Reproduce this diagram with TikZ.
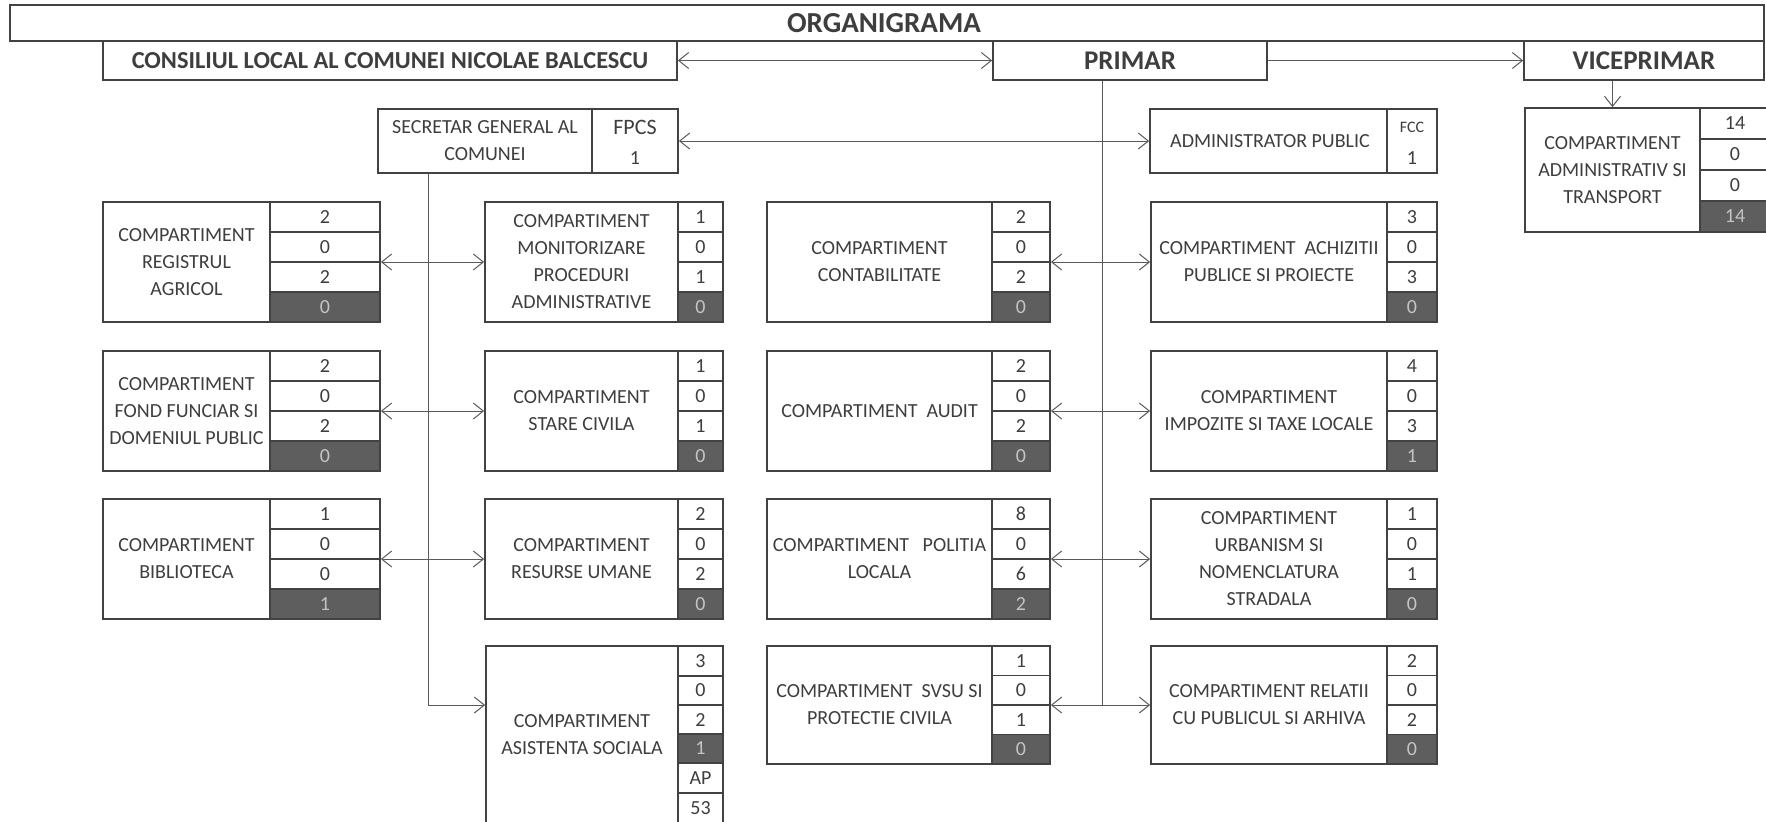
\documentclass[tikz,border=0pt]{standalone}
\usepackage{fontspec}
\setmainfont{Carlito}
\usetikzlibrary{arrows.meta,fit,calc}
\definecolor{ink}{HTML}{3E3E3E}
\definecolor{edge}{HTML}{424242}
\definecolor{darkcell}{HTML}{5E5E5E}
\definecolor{darktext}{HTML}{C4C4C4}
\definecolor{conn}{HTML}{5A5A5A}
\tikzset{
  frame/.style={draw=edge, line width=0.9pt, inner sep=0pt},
  cell/.style={draw=edge, line width=0.9pt},
  lbl/.style={text=ink, font=\fontsize{10}{13.5}\selectfont, align=center, inner sep=0pt},
  num/.style={text=ink, font=\fontsize{10}{12}\selectfont, inner sep=0pt},
  dnum/.style={text=darktext, font=\fontsize{10}{12}\selectfont, inner sep=0pt},
  headtxt/.style={text=ink, font=\bfseries\fontsize{13.5}{16}\selectfont, inner sep=0pt},
  link/.style={draw=conn, line width=0.5pt, {Straight Barb[length=5pt,width=8pt]}-{Straight Barb[length=5pt,width=8pt]}},
  tolink/.style={draw=conn, line width=0.5pt, -{Straight Barb[length=5pt,width=8pt]}},
  vline/.style={draw=conn, line width=0.5pt},
}
% #1 name, #2 x1, #3 y1, #4 xdiv, #5 x2, #6 y2, #7 text, #8 values, #9 dark value
\newcommand\cbox[9]{%
  \pgfmathsetmacro\rh{(#6-#3)/4}%
  \fill[darkcell] (#4,{#3+3*\rh}) rectangle (#5,#6);%
  \node[frame, fit={(#2,#3) (#5,#6)}] (#1) {};%
  \draw[cell] (#4,#3) -- (#4,#6);%
  \foreach \k in {1,2,3} {\draw[cell] (#4,{#3+\k*\rh}) -- (#5,{#3+\k*\rh});}%
  \foreach \v [count=\k] in {#8} {\node[num] at ({(#4+#5)/2},{#3+(\k-0.5)*\rh}) {\v};}%
  \node[dnum] at ({(#4+#5)/2},{#3+3.5*\rh}) {#9};%
  \node[lbl] (#1-t) at ({(#2+#4)/2},{(#3+#6)/2}) {#7};%
}
\begin{document}
\begin{tikzpicture}[x=0.5pt, y=-0.5pt]
\useasboundingbox (0,0) rectangle (1766,821);
\fill[white] (0,0) rectangle (1766,821);

% header
\node[frame, fit={(10,5) (1764,41)}] (title) {};
\node[headtxt, font=\bfseries\fontsize{14.5}{17}\selectfont] (titletext) at (884,23) {ORGANIGRAMA};
\node[frame, fit={(103,41) (677,80)}] (cons) {};
\node[headtxt, font=\bfseries\fontsize{12.2}{14}\selectfont] (constext) at (cons.center) {CONSILIUL LOCAL AL COMUNEI NICOLAE BALCESCU};
\node[frame, fit={(993,41) (1267,80)}] (primar) {};
\node[headtxt] (primartext) at (primar.center) {PRIMAR};
\node[frame, fit={(1524,41) (1764,80)}] (vice) {};
\node[headtxt] (vicetext) at (vice.center) {VICEPRIMAR};

% secretar
\node[frame, fit={(378,109) (678,173)}] (sec) {};
\draw[cell] (592,109) -- (592,173);
\node[lbl] (sec-t) at (485,141) {SECRETAR GENERAL AL\\COMUNEI};
\node[num, font=\fontsize{11}{12}\selectfont] (sec-a) at (635,127) {FPCS};
\node[num] (sec-b) at (635,158) {1};

% administrator public
\node[frame, fit={(1150,109) (1437,173)}] (adm) {};
\draw[cell] (1387,109) -- (1387,173);
\node[lbl] (adm-t) at (1270,141) {ADMINISTRATOR PUBLIC};
\node[num, font=\fontsize{8}{9}\selectfont] (adm-a) at (1412,127) {FCC};
\node[num] (adm-b) at (1412,158) {1};

% administrativ si transport (runs past the right edge)
\cbox{adtr}{1525}{108}{1700}{1770}{232}{COMPARTIMENT\\ADMINISTRATIV SI\\TRANSPORT}{14,0,0}{14}

% row 1
\cbox{reg}{103}{202}{270}{380}{322}{COMPARTIMENT\\REGISTRUL\\AGRICOL}{2,0,2}{0}
\cbox{mon}{485}{202}{678}{723}{322}{COMPARTIMENT\\MONITORIZARE\\PROCEDURI\\ADMINISTRATIVE}{1,0,1}{0}
\cbox{cont}{767}{202}{992}{1050}{322}{COMPARTIMENT\\CONTABILITATE}{2,0,2}{0}
\cbox{ach}{1151}{202}{1387}{1437}{322}{COMPARTIMENT\ \ ACHIZITII\\PUBLICE SI PROIECTE}{3,0,3}{0}
% row 2
\cbox{fond}{103}{351}{270}{380}{471}{COMPARTIMENT\\FOND FUNCIAR SI\\DOMENIUL PUBLIC}{2,0,2}{0}
\cbox{stare}{485}{351}{678}{723}{471}{COMPARTIMENT\\STARE CIVILA}{1,0,1}{0}
\cbox{aud}{767}{351}{992}{1050}{471}{COMPARTIMENT\ \ AUDIT}{2,0,2}{0}
\cbox{imp}{1151}{351}{1387}{1437}{471}{COMPARTIMENT\\IMPOZITE SI TAXE LOCALE}{4,0,3}{1}
% row 3
\cbox{bib}{103}{499}{270}{380}{619}{COMPARTIMENT\\BIBLIOTECA}{1,0,0}{1}
\cbox{res}{485}{499}{678}{723}{619}{COMPARTIMENT\\RESURSE UMANE}{2,0,2}{0}
\cbox{pol}{767}{499}{992}{1050}{619}{COMPARTIMENT\ \ \ POLITIA\\LOCALA}{8,0,6}{2}
\cbox{urb}{1151}{499}{1387}{1437}{619}{COMPARTIMENT\\URBANISM SI\\NOMENCLATURA\\STRADALA}{1,0,1}{0}
% row 4
\cbox{svsu}{767}{646}{992}{1050}{764}{COMPARTIMENT\ \ SVSU SI\\PROTECTIE CIVILA}{1,0,1}{0}
\cbox{rel}{1151}{646}{1387}{1437}{764}{COMPARTIMENT RELATII\\CU PUBLICUL SI ARHIVA}{2,0,2}{0}

% asistenta sociala (taller, runs past the bottom)
\fill[darkcell] (678,734) rectangle (723,763);
\node[frame, fit={(486,646) (723,823)}] (asis) {};
\draw[cell] (678,646) -- (678,823);
\foreach \yy in {676,705,734,763,793} {\draw[cell] (678,\yy) -- (723,\yy);}
\node[num] (asis-1) at (700.5,661) {3};
\node[num] (asis-2) at (700.5,690.5) {0};
\node[num] (asis-3) at (700.5,719.5) {2};
\node[dnum] (asis-4) at (700.5,748.5) {1};
\node[num] (asis-5) at (700.5,778) {AP};
\node[num] (asis-6) at (700.5,808) {53};
\node[lbl] (asis-t) at (582,735) {COMPARTIMENT\\ASISTENTA SOCIALA};

% connectors
\draw[link] (cons.east) -- (primar.west);
\draw[tolink] (primar.east) -- (vice.west);
\draw[tolink] (vice.south -| adtr-t) -- (adtr.north -| adtr-t);
\draw[link] (sec.east) -- (adm.west);

\coordinate (sl) at (428,705);
\coordinate (pl) at (1102,705);
\draw[vline] (sec.south -| sl) -- (sl);
\draw[vline] (primar.south -| pl) -- (pl);

\draw[link] (reg.east) -- (mon.west);
\draw[link] (fond.east) -- (stare.west);
\draw[link] (bib.east) -- (res.west);
\draw[tolink] (sl) -- (sl -| asis.west);

\draw[link] (cont.east) -- (ach.west);
\draw[link] (aud.east) -- (imp.west);
\draw[link] (pol.east) -- (urb.west);
\draw[link] (svsu.east) -- (rel.west);
\end{tikzpicture}
\end{document}
